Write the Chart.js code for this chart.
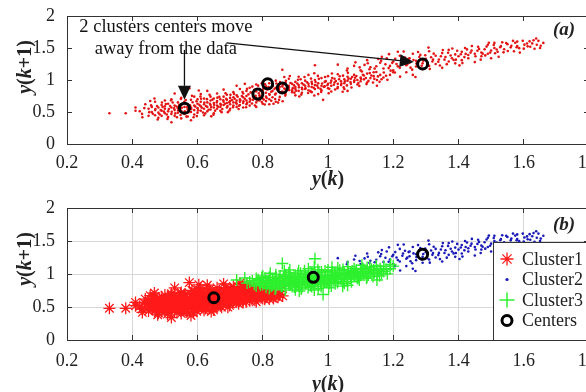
<!DOCTYPE html>
<html>
<head>
<meta charset="utf-8">
<script src="https://cdn.jsdelivr.net/npm/chart.js@4.4.1/dist/chart.umd.min.js"></script>
<style>
  html, body { margin: 0; padding: 0; background: #fff; }
  #wrap { position: relative; width: 586px; height: 392px; overflow: hidden; }
  canvas { position: absolute; left: 0; }
  #chartA { top: 0; }
  #chartB { top: 196px; }
</style>
</head>
<body>
<div id="wrap">
  <canvas id="chartA" width="620" height="196"></canvas>
  <canvas id="chartB" width="620" height="196"></canvas>
</div>
<script>
// Scatter data, [y(k), y(k+1)]
const cluster1 = [
  [0.33,0.48],[0.38,0.48],[0.41,0.57],[0.41,0.52],[0.43,0.47],[0.44,0.62],[0.45,0.44],[0.45,0.55],
  [0.46,0.50],[0.46,0.58],[0.47,0.45],[0.47,0.66],[0.47,0.53],[0.48,0.41],[0.48,0.57],[0.48,0.49],
  [0.49,0.61],[0.49,0.52],[0.49,0.44],[0.50,0.55],[0.50,0.48],[0.50,0.68],[0.50,0.59],[0.51,0.42],
  [0.51,0.51],[0.51,0.63],[0.52,0.34],[0.52,0.57],[0.52,0.47],[0.52,0.70],[0.53,0.53],[0.53,0.60],
  [0.53,0.44],[0.53,0.79],[0.54,0.49],[0.54,0.65],[0.54,0.56],[0.55,0.40],[0.55,0.52],[0.55,0.61],
  [0.55,0.72],[0.56,0.47],[0.56,0.58],[0.56,0.66],[0.57,0.54],[0.57,0.43],[0.57,0.62],[0.575,0.87],
  [0.58,0.50],[0.58,0.69],[0.58,0.57],[0.58,0.37],[0.59,0.60],[0.59,0.53],[0.59,0.74],[0.59,0.46],
  [0.60,0.63],[0.60,0.56],[0.60,0.49],[0.60,0.70],[0.61,0.59],[0.61,0.52],[0.61,0.66],[0.61,0.78],
  [0.62,0.55],[0.62,0.62],[0.62,0.45],[0.62,0.71],[0.63,0.58],[0.63,0.65],[0.63,0.51],[0.63,0.83],
  [0.64,0.61],[0.64,0.68],[0.64,0.54],[0.64,0.74],[0.65,0.57],[0.65,0.64],[0.65,0.48],[0.65,0.71],
  [0.66,0.60],[0.66,0.67],[0.66,0.79],[0.66,0.55],[0.67,0.63],[0.67,0.70],[0.67,0.52],[0.67,0.58],
  [0.68,0.66],[0.68,0.74],[0.68,0.61],[0.68,0.85],[0.69,0.57],[0.69,0.69],[0.69,0.64],[0.69,0.77],
  [0.70,0.62],[0.70,0.72],[0.70,0.55],[0.70,0.67],[0.71,0.65],[0.71,0.81],[0.71,0.60],[0.71,0.73],
  [0.72,0.68],[0.72,0.58],[0.72,0.76],[0.72,0.63],[0.73,0.70],[0.73,0.66],[0.73,0.86],[0.73,0.61],
  [0.74,0.73],[0.74,0.64],[0.74,0.79],[0.74,0.57],[0.75,0.68],[0.75,0.75],[0.75,0.62],[0.75,0.83],
  [0.76,0.71],[0.76,0.66],[0.76,0.60],[0.77,0.74],[0.77,0.69],[0.77,0.80],[0.78,0.65],[0.78,0.72],
  [0.78,0.58],[0.79,0.76],[0.79,0.68],[0.80,0.71],[0.80,0.63],[0.80,0.79],[0.81,0.74],[0.81,0.67],
  [0.82,0.70],[0.82,0.62],[0.83,0.73],[0.84,0.66],[0.85,0.69],
  [0.423,0.512],[0.437,0.561],[0.452,0.498],[0.458,0.603],[0.463,0.472],[0.471,0.548],[0.476,0.592],
  [0.484,0.463],[0.487,0.532],[0.493,0.577],[0.497,0.506],[0.503,0.624],[0.506,0.461],[0.512,0.545],
  [0.516,0.592],[0.521,0.503],[0.524,0.648],[0.528,0.556],[0.532,0.478],[0.536,0.587],[0.541,0.527],
  [0.544,0.611],[0.548,0.454],[0.552,0.567],[0.557,0.632],[0.561,0.512],[0.564,0.687],[0.568,0.573],
  [0.572,0.494],[0.577,0.606],[0.581,0.548],[0.585,0.652],[0.588,0.418],[0.593,0.584],[0.597,0.667],
  [0.602,0.528],[0.606,0.611],[0.609,0.742],[0.613,0.566],[0.617,0.493],[0.621,0.647],[0.626,0.593],
  [0.629,0.701],[0.634,0.536],[0.638,0.627],[0.642,0.578],[0.646,0.694],[0.651,0.612],[0.654,0.521],
  [0.659,0.648],[0.663,0.583],[0.667,0.736],[0.672,0.612],[0.676,0.546],[0.679,0.683],[0.684,0.628],
  [0.688,0.707],[0.692,0.592],[0.697,0.653],[0.701,0.768],[0.706,0.688],[0.709,0.574],[0.714,0.706],
  [0.718,0.646],[0.723,0.738],[0.727,0.598],[0.731,0.683],[0.736,0.751],[0.741,0.667],[0.745,0.708],
  [0.752,0.642],[0.756,0.776],[0.762,0.693],[0.767,0.632],[0.773,0.718],[0.778,0.754],[0.784,0.682],
  [0.791,0.736],[0.797,0.655],[0.803,0.694],[0.812,0.718],[0.826,0.676],[0.838,0.702],[0.847,0.647],
  [0.468,0.712],[0.604,0.836],[0.642,0.432],[0.693,0.498],
  [0.431,0.418],[0.455,0.672],[0.478,0.382],[0.491,0.648],[0.508,0.392],[0.519,0.682],[0.537,0.418],
  [0.549,0.702],[0.566,0.428],[0.583,0.752],[0.598,0.436],[0.611,0.708],[0.624,0.478],[0.637,0.768],
  [0.649,0.456],[0.661,0.724],[0.674,0.498],[0.686,0.792],[0.698,0.524],[0.712,0.782],[0.726,0.548],
  [0.738,0.812],[0.749,0.574],[0.763,0.806],[0.776,0.602],[0.788,0.792],[0.806,0.618],[0.821,0.768],
  [0.833,0.628],[0.852,0.736],[0.861,0.668]
];
const cluster2 = [
  [1.03,1.24],[1.06,1.18],[1.08,1.22],[1.10,1.15],[1.12,1.31],[1.13,1.20],[1.14,1.12],[1.16,1.27],
  [1.17,1.18],[1.18,1.34],[1.19,1.22],[1.20,1.15],[1.20,1.29],[1.21,1.25],[1.22,1.38],[1.22,1.19],
  [1.23,1.31],[1.24,1.23],[1.24,1.12],[1.25,1.34],[1.25,1.27],[1.26,1.08],[1.26,1.41],[1.27,1.21],
  [1.27,1.30],[1.28,1.36],[1.29,1.17],[1.29,1.26],[1.30,1.33],[1.31,1.45],[1.31,1.22],[1.32,1.29],
  [1.33,1.38],[1.33,1.25],[1.34,1.32],[1.35,1.42],[1.35,1.19],[1.36,1.36],[1.37,1.29],[1.37,1.47],
  [1.38,1.34],[1.39,1.40],[1.39,1.26],[1.40,1.37],[1.41,1.44],[1.41,1.31],[1.42,1.50],[1.43,1.39],
  [1.43,1.34],[1.44,1.46],[1.45,1.41],[1.45,1.28],[1.46,1.52],[1.47,1.43],[1.47,1.37],[1.48,1.48],
  [1.49,1.55],[1.49,1.41],[1.50,1.34],[1.50,1.46],[1.51,1.58],[1.51,1.50],[1.52,1.44],[1.53,1.53],
  [1.54,1.48],[1.55,1.56],[1.56,1.51],[1.57,1.45],[1.58,1.60],[1.58,1.53],[1.60,1.49],[1.61,1.57],
  [1.62,1.52],[1.63,1.62],[1.64,1.55],[1.65,1.50],[1.66,1.58],
  [1.112,1.236],[1.127,1.168],[1.148,1.216],[1.163,1.302],[1.176,1.246],[1.186,1.186],[1.197,1.268],
  [1.206,1.332],[1.214,1.213],[1.228,1.276],[1.236,1.352],[1.243,1.248],[1.253,1.193],[1.262,1.312],
  [1.271,1.258],[1.283,1.392],[1.292,1.302],[1.304,1.238],[1.316,1.356],[1.324,1.412],[1.338,1.286],
  [1.346,1.372],[1.357,1.318],[1.368,1.426],[1.376,1.382],[1.385,1.312],[1.396,1.456],[1.407,1.402],
  [1.418,1.358],[1.426,1.478],[1.437,1.428],[1.452,1.372],[1.463,1.486],[1.474,1.412],[1.486,1.522],
  [1.497,1.428],[1.508,1.546],[1.517,1.476],[1.528,1.512],[1.538,1.432],[1.546,1.578],[1.562,1.536],
  [1.574,1.582],[1.586,1.498],[1.597,1.612],[1.612,1.526],[1.626,1.572],[1.638,1.648],[1.652,1.536],
  [1.308,1.506],[1.412,1.264],[1.523,1.364],[1.588,1.428],[1.214,1.442],
  [1.165,1.362],[1.187,1.404],[1.205,1.118],[1.221,1.052],[1.232,1.446],[1.247,1.332],[1.258,1.162],
  [1.268,1.046],[1.276,1.438],[1.287,1.222],[1.298,1.386],[1.312,1.172],[1.322,1.318],[1.343,1.226],
  [1.352,1.468],[1.364,1.248],[1.381,1.492],[1.392,1.318],[1.403,1.228],[1.422,1.408],[1.441,1.532],
  [1.458,1.456],[1.468,1.318],[1.482,1.384],[1.493,1.582],[1.512,1.418],[1.534,1.588],[1.551,1.452],
  [1.567,1.612],[1.578,1.512],[1.602,1.552],[1.618,1.604],[1.633,1.488],[1.645,1.612],[1.058,1.148],
  [1.084,1.276],[1.097,1.198],[1.122,1.262],[1.143,1.178],[1.154,1.328]
];
const cluster3 = [
  [0.72,0.91],[0.745,0.94],[0.76,0.88],[0.78,0.82],[0.78,0.93],[0.79,0.86],[0.80,0.97],[0.80,0.84],
  [0.81,0.90],[0.81,0.80],[0.82,0.87],[0.82,0.95],[0.82,0.78],[0.83,0.92],[0.83,0.83],[0.84,0.88],
  [0.84,0.99],[0.84,0.79],[0.85,0.86],[0.85,0.93],[0.86,1.16],[0.86,0.82],[0.86,0.90],[0.87,0.96],
  [0.87,0.85],[0.87,0.78],[0.88,0.91],[0.88,0.88],[0.88,1.02],[0.89,0.84],[0.89,0.94],[0.89,0.81],
  [0.90,0.89],[0.90,0.97],[0.90,0.86],[0.90,0.76],[0.91,0.92],[0.91,1.05],[0.91,0.83],[0.92,0.88],
  [0.92,0.95],[0.92,0.80],[0.93,0.91],[0.93,0.99],[0.93,0.86],[0.94,0.84],[0.94,0.94],[0.94,1.08],
  [0.95,0.89],[0.95,0.97],[0.95,0.81],[0.96,1.23],[0.96,0.92],[0.96,1.00],[0.96,0.86],[0.97,0.95],
  [0.97,0.88],[0.97,0.78],[0.98,0.91],[0.98,1.03],[0.98,0.84],[0.985,0.69],[0.99,0.97],[0.99,0.90],
  [1.00,0.94],[1.00,1.06],[1.00,0.87],[1.01,0.99],[1.01,0.91],[1.01,0.82],[1.02,0.96],[1.02,1.02],
  [1.03,0.89],[1.03,0.94],[1.03,1.09],[1.04,0.98],[1.04,0.92],[1.05,1.01],[1.05,0.95],[1.05,0.86],
  [1.06,0.83],[1.06,0.99],[1.06,1.05],[1.07,0.94],[1.07,1.02],[1.08,0.97],[1.08,1.08],[1.09,1.00],
  [1.09,0.93],[1.10,1.04],[1.10,0.98],[1.11,1.07],[1.11,1.01],[1.12,0.96],[1.12,1.10],[1.13,1.03],
  [1.14,1.06],[1.15,0.91],[1.15,1.00],[1.16,1.08],[1.17,1.04],[1.19,1.08],[1.20,1.12],
  [0.752,0.862],[0.768,0.897],[0.774,0.846],[0.786,0.912],[0.793,0.828],[0.802,0.873],[0.807,0.934],
  [0.814,0.852],[0.818,0.889],[0.826,0.816],[0.831,0.908],[0.836,0.862],[0.842,0.946],[0.847,0.838],
  [0.852,0.893],[0.857,0.812],[0.862,0.927],[0.866,0.868],[0.871,0.988],[0.876,0.902],[0.881,0.842],
  [0.885,0.954],[0.892,0.873],[0.896,0.916],[0.902,0.832],[0.906,0.946],[0.911,0.886],[0.916,1.012],
  [0.921,0.857],[0.925,0.928],[0.931,0.873],[0.936,0.963],[0.941,0.902],[0.946,0.826],[0.951,0.937],
  [0.956,0.878],[0.962,0.968],[0.967,0.912],[0.972,1.018],[0.977,0.862],[0.982,0.946],[0.987,0.893],
  [0.993,0.982],[0.998,0.917],[1.004,0.862],[1.008,0.957],[1.013,1.032],[1.018,0.926],[1.024,0.983],
  [1.029,0.872],[1.034,1.012],[1.041,0.946],[1.046,1.068],[1.052,0.978],[1.058,0.916],[1.063,1.022],
  [1.069,0.968],[1.074,1.046],[1.081,0.996],[1.087,1.062],[1.093,0.952],[1.101,1.018],[1.107,1.083],
  [1.116,1.032],[1.124,0.986],[1.133,1.071],[1.142,1.018],[1.153,1.056],[1.164,1.012],[1.178,1.067],
  [0.912,0.742],[0.958,1.106],[1.045,0.816],[0.866,1.046],
  [0.797,0.948],[0.823,1.012],[0.838,0.772],[0.853,0.968],[0.869,0.756],[0.883,1.062],[0.897,0.802],
  [0.908,1.004],[0.918,0.772],[0.928,1.048],[0.939,0.796],[0.948,1.022],[0.958,0.758],[0.969,1.064],
  [0.979,0.812],[0.991,1.046],[1.002,0.792],[1.012,1.102],[1.022,0.852],[1.036,1.058],[1.048,0.884],
  [1.061,1.112],[1.072,0.882],[1.083,1.036],[1.096,0.908],[1.104,1.132],[1.118,0.936],[1.128,1.108],
  [1.138,0.962],[1.148,1.126],[1.158,0.972],[1.171,1.118],[1.182,1.002],[1.192,1.146]
];

// cluster centres: (a) five poorly placed centres, (b) the three final ones
const centersA = [[0.56,0.56],[0.785,0.78],[0.815,0.94],[0.86,0.875],[1.29,1.25]];
const centersB = [[0.65,0.64],[0.955,0.95],[1.29,1.30]];

const xTicks = [0.2, 0.4, 0.6, 0.8, 1, 1.2, 1.4, 1.6, 1.8];
const xTickLabels = ['0.2', '0.4', '0.6', '0.8', '1', '1.2', '1.4', '1.6', '1.8'];
const yTicks = [0, 0.5, 1, 1.5, 2];
const yTickLabels = ['0', '0.5', '1', '1.5', '2'];

const legendLabels = ['Cluster1', 'Cluster2', 'Cluster3', 'Centers'];
const noteLines = ['2 clusters centers move', 'away from the data'];
const noteAt = [0.503, 1.75];
// arrows in data units: [x0, y0, x1(tip), y1(tip)]
const arrows = [[0.56, 1.47, 0.56, 0.69], [0.689, 1.58, 1.263, 1.28]];

const SERIF = '"Liberation Serif", "Times New Roman", serif';
const INK = '#222';

Chart.defaults.font.family = SERIF;

const toXY = arr => arr.map(([x, y]) => ({ x, y }));

function pinTicks(values) {
    return scale => { scale.ticks = values.map(v => ({ value: v })); };
}

// fixed axis sizes so the plot box sits where it does in the figure
function fitX(h) {
    return s => { s.height = h; s.paddingLeft = 0; s.paddingRight = 0; };
}
function fitY(w) {
    return s => { s.width = w; s.paddingTop = 0; s.paddingBottom = 0; };
}

function makeScales(gridOnArea, xPad) {
    const axisBorder = { display: true, color: '#333', width: 1 };
    const grid = {
        display: true,
        drawOnChartArea: gridOnArea,
        color: '#d8d8d8',
        tickColor: '#333',
        tickLength: -5,
        drawTicks: true
    };
    const tickFont = { family: SERIF, size: 18 };
    return {
        x: {
            type: 'linear', position: 'bottom', min: 0.2, max: 1.8,
            afterBuildTicks: pinTicks(xTicks),
            afterFit: fitX(52),
            border: axisBorder, grid,
            ticks: {
                color: INK, font: tickFont, padding: xPad, autoSkip: false, maxRotation: 0,
                callback: (v, i) => xTickLabels[i]
            }
        },
        y: {
            type: 'linear', position: 'left', min: 0, max: 2,
            afterBuildTicks: pinTicks(yTicks),
            afterFit: fitY(67),
            border: axisBorder, grid,
            ticks: {
                color: INK, font: tickFont, padding: 17, autoSkip: false,
                callback: (v, i) => yTickLabels[i]
            }
        },
        x2: {
            type: 'linear', position: 'top', min: 0.2, max: 1.8,
            afterBuildTicks: pinTicks(xTicks),
            afterFit: fitX(0),
            border: axisBorder,
            grid: { ...grid, drawOnChartArea: false },
            ticks: { display: false }
        },
        y2: {
            type: 'linear', position: 'right', min: 0, max: 2,
            afterBuildTicks: pinTicks(yTicks),
            afterFit: fitY(0),
            border: axisBorder,
            grid: { ...grid, drawOnChartArea: false },
            ticks: { display: false }
        }
    };
}

// "y(k+1)" / "y(k)" with italic y and k
function drawRich(ctx, parts, cx, cy, vertical) {
    ctx.save();
    ctx.translate(cx, cy);
    if (vertical) ctx.rotate(-Math.PI / 2);
    ctx.textBaseline = 'middle';
    ctx.textAlign = 'left';
    ctx.fillStyle = INK;
    const widths = parts.map(([t, f]) => { ctx.font = f; return ctx.measureText(t).width; });
    let x = -widths.reduce((a, b) => a + b, 0) / 2;
    parts.forEach(([t, f], i) => { ctx.font = f; ctx.fillText(t, x, 0); x += widths[i]; });
    ctx.restore();
}

const IT = 'italic bold 20px ' + SERIF;
const UP = 'bold 20px ' + SERIF;
const yTitle = [['y', IT], ['(', UP], ['k', IT], ['+1)', UP]];
const xTitle = [['y', IT], ['(', UP], ['k', IT], [')', UP]];

function axisTitles(xTitleDy) {
    return {
        id: 'axisTitles',
        afterDraw(chart) {
            const { ctx, chartArea, scales } = chart;
            drawRich(ctx, yTitle, 26, chartArea.top + 51, true);
            drawRich(ctx, xTitle, scales.x.getPixelForValue(1), chartArea.bottom + xTitleDy, false);
        }
    };
}

function panelTag(text, dy) {
    return {
        id: 'panelTag',
        afterDraw(chart) {
            const { ctx, chartArea } = chart;
            ctx.save();
            ctx.font = 'italic bold 19px ' + SERIF;
            ctx.fillStyle = INK;
            ctx.textAlign = 'center';
            ctx.textBaseline = 'middle';
            ctx.fillText(text, chartArea.right - 25, chartArea.top + dy);
            ctx.restore();
        }
    };
}

function drawArrow(ctx, x0, y0, x1, y1) {
    const len = Math.hypot(x1 - x0, y1 - y0);
    const ux = (x1 - x0) / len, uy = (y1 - y0) / len;
    const head = 14, half = 6.5;
    const bx = x1 - ux * head, by = y1 - uy * head;
    ctx.beginPath();
    ctx.moveTo(x0, y0);
    ctx.lineTo(bx, by);
    ctx.stroke();
    ctx.beginPath();
    ctx.moveTo(x1, y1);
    ctx.lineTo(bx - uy * half, by + ux * half);
    ctx.lineTo(bx + uy * half, by - ux * half);
    ctx.closePath();
    ctx.fill();
}

const noteA = {
    id: 'noteA',
    afterDatasetsDraw(chart) {
        const { ctx, scales: { x, y } } = chart;
        ctx.save();
        ctx.fillStyle = '#111';
        ctx.strokeStyle = '#111';
        ctx.lineWidth = 1.3;
        ctx.font = '18.5px ' + SERIF;
        ctx.textAlign = 'center';
        ctx.textBaseline = 'alphabetic';
        noteLines.forEach((t, i) => {
            ctx.fillText(t, x.getPixelForValue(noteAt[0]), y.getPixelForValue(noteAt[1]) + i * 22);
        });
        arrows.forEach(a => drawArrow(ctx,
            x.getPixelForValue(a[0]), y.getPixelForValue(a[1]),
            x.getPixelForValue(a[2]), y.getPixelForValue(a[3])));
        ctx.restore();
    }
};

const RED = '#ff1a1a';
const BLUE = '#1a1ab8';
const GREEN = '#2ef02e';

const legendMarks = [
    { pointStyle: 'star', radius: 6.5, borderWidth: 1.3, color: RED },
    { pointStyle: 'circle', radius: 1.6, borderWidth: 0, color: BLUE },
    { pointStyle: 'cross', radius: 7.5, borderWidth: 1.5, color: GREEN },
    { pointStyle: 'circle', radius: 5, borderWidth: 3, color: '#000', hollow: true }
];

const legendB = {
    id: 'legendB',
    afterDraw(chart) {
        const { ctx, chartArea } = chart;
        const left = chartArea.right - 96, top = chartArea.top + 34;
        ctx.save();
        ctx.fillStyle = '#fff';
        ctx.fillRect(left, top, chartArea.right - left, chartArea.bottom - top);
        ctx.strokeStyle = '#333';
        ctx.lineWidth = 1;
        ctx.strokeRect(left + 0.5, top + 0.5, chartArea.right - left, chartArea.bottom - top);
        ctx.font = '18px ' + SERIF;
        ctx.textBaseline = 'middle';
        ctx.textAlign = 'left';
        legendLabels.forEach((label, i) => {
            const cy = top + 17 + i * 20.5;
            const m = legendMarks[i];
            ctx.fillStyle = m.hollow ? 'rgba(0,0,0,0)' : m.color;
            ctx.strokeStyle = m.color;
            ctx.lineWidth = m.borderWidth;
            Chart.helpers.drawPoint(ctx, { pointStyle: m.pointStyle, radius: m.radius, rotation: 0, borderWidth: m.borderWidth }, left + 14, cy);
            ctx.fillStyle = INK;
            ctx.fillText(label, left + 29, cy + 1);
        });
        ctx.restore();
    }
};

const centreStyle = {
    pointStyle: 'circle',
    pointRadius: 5,
    pointBorderWidth: 3,
    pointBorderColor: '#000',
    pointBackgroundColor: 'rgba(0,0,0,0)'
};

new Chart(document.getElementById('chartA'), {
    type: 'scatter',
    data: {
        datasets: [
            { label: 'Centers', data: toXY(centersA), ...centreStyle },
            {
                label: 'Data',
                data: toXY([...cluster1, ...cluster3, ...cluster2]),
                pointRadius: 1.3,
                pointBorderWidth: 0,
                pointBackgroundColor: '#e41414'
            }
        ]
    },
    options: {
        responsive: false,
        animation: false,
        devicePixelRatio: 1,
        layout: { padding: { left: 0, right: 31, top: 16, bottom: 0 } },
        scales: makeScales(false, 13),
        plugins: { legend: { display: false }, tooltip: { enabled: false } }
    },
    plugins: [noteA, axisTitles(36), panelTag('(a)', 14)]
});

new Chart(document.getElementById('chartB'), {
    type: 'scatter',
    data: {
        datasets: [
            { label: 'Centers', data: toXY(centersB), ...centreStyle },
            {
                label: 'Cluster3', data: toXY(cluster3),
                pointStyle: 'cross', pointRadius: 6, pointBorderWidth: 1.4,
                pointBorderColor: GREEN, pointBackgroundColor: GREEN
            },
            {
                label: 'Cluster2', data: toXY(cluster2),
                pointRadius: 1.3, pointBorderWidth: 0, pointBackgroundColor: BLUE
            },
            {
                label: 'Cluster1', data: toXY(cluster1),
                pointStyle: 'star', pointRadius: 6, pointBorderWidth: 1.3,
                pointBorderColor: RED, pointBackgroundColor: RED
            }
        ]
    },
    options: {
        responsive: false,
        animation: false,
        devicePixelRatio: 1,
        layout: { padding: { left: 0, right: 31, top: 12, bottom: 0 } },
        scales: makeScales(true, 15),
        plugins: { legend: { display: false }, tooltip: { enabled: false } }
    },
    plugins: [legendB, axisTitles(45), panelTag('(b)', 17)]
});
</script>
</body>
</html>
